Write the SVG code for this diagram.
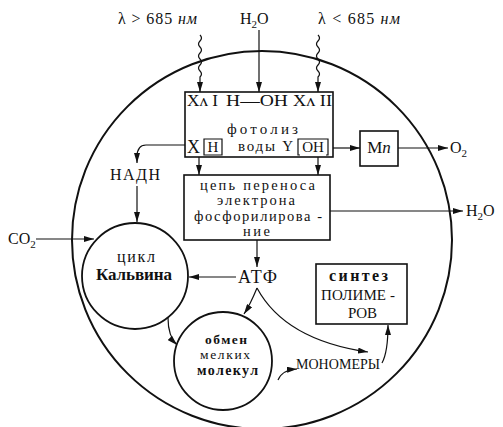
<svg xmlns="http://www.w3.org/2000/svg" width="503" height="427" viewBox="0 0 503 427" font-family="Liberation Serif, DejaVu Serif, serif" font-size="16">
<style>
text{fill:#111;}
.m{text-anchor:middle;}
.bd{font-weight:bold;}
.ln{fill:none;stroke:#111;stroke-width:1.2;}
.bx{fill:#fff;stroke:#111;stroke-width:1.6;}
.cir{fill:#fff;stroke:#111;stroke-width:1.8;}
.a{marker-end:url(#ah);}
</style>
<defs>
<marker id="ah" markerUnits="userSpaceOnUse" markerWidth="10" markerHeight="6" refX="10" refY="3" orient="auto">
<path d="M0,0 L10,3 L0,6 z" fill="#111"/>
</marker>
</defs>
<ellipse cx="262" cy="240" rx="190" ry="189" fill="none" stroke="#111" stroke-width="2"/>
<g id="labels-top">
<text x="118" y="24" textLength="79" lengthAdjust="spacing">λ &gt; 685 <tspan font-style="italic">нм</tspan></text>
<text x="240" y="24">H<tspan font-size="11" dy="4">2</tspan><tspan dy="-4">O</tspan></text>
<text x="318" y="24" textLength="82" lengthAdjust="spacing">λ &lt; 685 <tspan font-style="italic">нм</tspan></text>
</g>
<g id="connectors">
<path class="ln a" d="M200,35 q3,3 0,6 q-3,3 0,6 q3,3 0,6 q-3,3 0,6 q3,3 0,6 q-3,3 0,6 q3,3 0,6 L200,92"/>
<path class="ln a" d="M259,30 L259,92"/>
<path class="ln a" d="M318,35 q3,3 0,6 q-3,3 0,6 q3,3 0,6 q-3,3 0,6 q3,3 0,6 q-3,3 0,6 q3,3 0,6 L318,92"/>
<path class="ln a" d="M205,113 L205,135"/>
<path class="ln a" d="M313,113 L313,135"/>
<path class="ln a" d="M199,157 L199,175"/>
<path class="ln a" d="M318,157 L318,175"/>
<path class="ln a" d="M185,145 L146,145 Q137,145 137,157 L137,163"/>
<path class="ln a" d="M137,186 L137,222"/>
<path class="ln a" d="M333,148 L360,148"/>
<path class="ln a" d="M398,148 L448,148"/>
<path class="ln a" d="M330,211 L463,211"/>
<path class="ln a" d="M36,239 L94,239"/>
<path class="ln a" d="M257,240 L257,267"/>
<path class="ln a" d="M236,277 L189,277"/>
<path class="ln a" d="M257,288 Q250,305 244,314"/>
<path class="ln a" d="M257,288 Q285,340 368,352"/>
<path class="ln a" d="M168,318 Q168,336 177,345"/>
<path class="ln a" d="M278,380 Q282,370 297,369"/>
<path class="ln a" d="M382,363 Q388,352 388,325"/>
</g>
<g id="photolysis">
<rect class="bx" x="185" y="92" width="148" height="65"/>
<text x="187" y="106" font-size="17" textLength="31" lengthAdjust="spacingAndGlyphs">Xʌ I</text>
<text x="226" y="106" font-size="17" textLength="62" lengthAdjust="spacingAndGlyphs">H—OH</text>
<text x="293" y="106" font-size="17" textLength="39" lengthAdjust="spacingAndGlyphs">Xʌ II</text>
<text x="227" y="134" font-size="15" textLength="71" lengthAdjust="spacing">фотолиз</text>
<text x="238" y="151" font-size="15" textLength="55" lengthAdjust="spacing">воды Y</text>
<text x="187" y="153" font-size="18">X</text>
<path class="ln" d="M206,139 L204,139 L204,155 L206,155 M220,139 L222,139 L222,155 L220,155 M204,139 L222,139 M204,155 L222,155" stroke-width="1"/>
<text x="213" y="152" class="m" font-size="15">H</text>
<path class="ln" d="M300,139 L298,139 L298,155 L300,155 M326,139 L328,139 L328,155 L326,155 M298,139 L328,139" stroke-width="1"/>
<text x="313" y="152" class="m" font-size="15">OH</text>
</g>
<g id="mn">
<rect class="bx" x="360" y="131" width="38" height="35"/>
<text x="379" y="153" class="m" font-size="17">M<tspan font-style="italic">n</tspan></text>
</g>
<g id="o2">
<text x="450" y="153">O<tspan font-size="11" dy="4">2</tspan></text>
</g>
<g id="h2o-out">
<text x="466" y="216">H<tspan font-size="11" dy="4">2</tspan><tspan dy="-4">O</tspan></text>
</g>
<g id="nadh">
<text x="110" y="180" textLength="50" lengthAdjust="spacing">НАДН</text>
</g>
<g id="co2">
<text x="8" y="244">CO<tspan font-size="11" dy="4">2</tspan></text>
</g>
<g id="electron-chain">
<rect class="bx" x="184" y="175" width="146" height="65"/>
<text x="200" y="190" font-size="14.5" textLength="115" lengthAdjust="spacing">цепь переноса</text>
<text x="217" y="205" font-size="14.5" textLength="78" lengthAdjust="spacing">электрона</text>
<text x="194" y="221" font-size="14.5" textLength="128" lengthAdjust="spacing">фосфорилирова -</text>
<text x="243" y="236" font-size="14.5" textLength="27" lengthAdjust="spacing">ние</text>
</g>
<g id="calvin">
<circle class="cir" cx="135" cy="276" r="53"/>
<text x="117" y="262" textLength="38" lengthAdjust="spacing">цикл</text>
<text x="96" y="280" class="bd" font-size="17" textLength="76" lengthAdjust="spacing">Кальвина</text>
</g>
<g id="atf">
<text x="238" y="283" font-size="18" textLength="39" lengthAdjust="spacing">АТФ</text>
</g>
<g id="exchange">
<circle class="cir" cx="223" cy="361" r="49"/>
<text x="205" y="344" class="bd" font-size="13.5" textLength="42" lengthAdjust="spacing">обмен</text>
<text x="200" y="359" font-size="13.5" textLength="50" lengthAdjust="spacing" fill="#333">мелких</text>
<text x="197" y="375" class="bd" font-size="14" textLength="61" lengthAdjust="spacing">молекул</text>
</g>
<g id="monomers">
<text x="296" y="369" font-size="14" textLength="84" lengthAdjust="spacing" fill="#444">МОНОМЕРЫ</text>
</g>
<g id="synthesis">
<rect class="bx" x="316" y="264" width="91" height="60"/>
<text x="329" y="281" class="bd" font-size="16" textLength="59" lengthAdjust="spacing">синтез</text>
<text x="321" y="300" font-size="15" textLength="74" lengthAdjust="spacing">ПОЛИМЕ -</text>
<text x="348" y="318" font-size="15" textLength="29" lengthAdjust="spacing">РОВ</text>
</g>
</svg>
